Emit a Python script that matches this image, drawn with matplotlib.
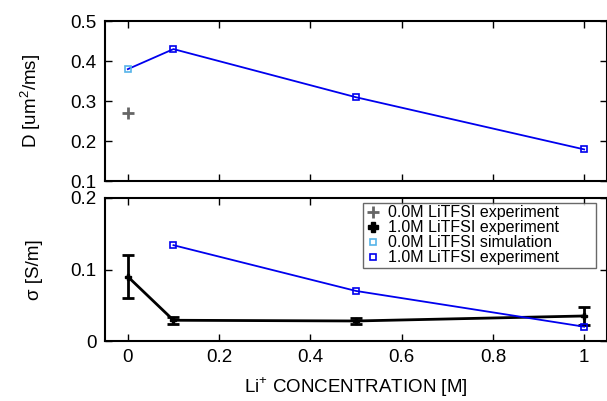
import numpy as np
import matplotlib
matplotlib.use("Agg")
import matplotlib.pyplot as plt

plt.rcParams['font.family'] = ['Liberation Sans', 'DejaVu Sans']
plt.rcParams['font.size'] = 13.5
plt.rcParams['mathtext.fontset'] = 'custom'
plt.rcParams['mathtext.rm'] = 'Liberation Sans'

# --- Data ---
# diffusion coefficient
d_exp0_x = [0.0]
d_exp0_y = [0.27]
d_sim0_x = [0.0]
d_sim0_y = [0.38]
d_sim1_x = [0.1, 0.5, 1.0]
d_sim1_y = [0.43, 0.31, 0.18]

# conductivity
s_exp1_x = [0.0, 0.1, 0.5, 1.0]
s_exp1_y = [0.09, 0.029, 0.028, 0.035]
s_exp1_err = [0.03, 0.005, 0.004, 0.013]
s_sim1_x = [0.1, 0.5, 1.0]
s_sim1_y = [0.134, 0.07, 0.02]

LIGHT = '#56b4e9'
BLUE = '#0000ee'
GRAY = '#666666'

fig = plt.figure(figsize=(6.07, 4.01), dpi=100)
ax1 = fig.add_axes([105/607, 1 - 181.5/401, 502/607, 160.5/401])
ax2 = fig.add_axes([105/607, 1 - 341/401, 502/607, 143/401])

sq = dict(marker='s', markersize=5, markerfacecolor='none', markeredgewidth=1.2)

# --- Top: D ---
ax1.plot(d_sim0_x + d_sim1_x, d_sim0_y + d_sim1_y, color=BLUE, lw=1.3, zorder=2)
ax1.plot(d_sim1_x, d_sim1_y, ls='none', color=BLUE, **sq, zorder=3)
ax1.plot(d_sim0_x, d_sim0_y, ls='none', color=LIGHT, **sq, zorder=3)
ax1.plot(d_exp0_x, d_exp0_y, ls='none', marker='+', markersize=9,
         markeredgewidth=2, color=GRAY)
ax1.set_ylim(0.1, 0.5)
ax1.set_yticks([0.1, 0.2, 0.3, 0.4, 0.5])
ax1.set_ylabel("D [um$^2$/ms]", labelpad=20)
ax1.tick_params(labelbottom=False)

# --- Bottom: sigma ---
ax2.plot(s_sim1_x, s_sim1_y, color=BLUE, lw=1.3, **sq, zorder=3)
ax2.errorbar(s_exp1_x, s_exp1_y, yerr=s_exp1_err, color='black', lw=2,
             elinewidth=2, capsize=4, capthick=2, marker='P', markersize=5,
             zorder=2)
ax2.set_ylim(0, 0.2)
ax2.set_yticks([0, 0.1, 0.2])
ax2.set_yticklabels(['0', '0.1', '0.2'])
ax2.set_ylabel("σ [S/m]", labelpad=20)
ax2.set_xlabel("Li$^{+}$ CONCENTRATION [M]", labelpad=7)

for ax in (ax1, ax2):
    ax.set_xlim(-0.05, 1.05)
    ax.set_xticks([0, 0.2, 0.4, 0.6, 0.8, 1.0])
    ax.tick_params(direction='in', top=True, right=True, length=5, width=1,
                   pad=6)
    for s in ax.spines.values():
        s.set_linewidth(1.5)
ax2.set_xticklabels(['0', '0.2', '0.4', '0.6', '0.8', '1'])

# --- Legend ---
h1 = plt.Line2D([], [], ls='none', marker='+', markersize=9, markeredgewidth=2, color=GRAY)
h2 = plt.Line2D([], [], ls='none', marker='P', markersize=7, color='black')
h3 = plt.Line2D([], [], ls='none', color=LIGHT, **sq)
h4 = plt.Line2D([], [], ls='none', color=BLUE, **sq)
leg = ax2.legend([h1, h2, h3, h4],
                 ['0.0M LiTFSI experiment', '1.0M LiTFSI experiment',
                  '0.0M LiTFSI simulation', '1.0M LiTFSI experiment'],
                 loc='upper left', bbox_to_anchor=(0.514, 0.5, 0.464, 0.465),
                 mode='expand', fontsize=11.5,
                 frameon=True, fancybox=False, edgecolor='#444444',
                 handlelength=1.0, handletextpad=0.4, labelspacing=0.0,
                 borderpad=0.15, borderaxespad=0)
leg.get_frame().set_linewidth(1)

fig.savefig("out.png", dpi=100)
